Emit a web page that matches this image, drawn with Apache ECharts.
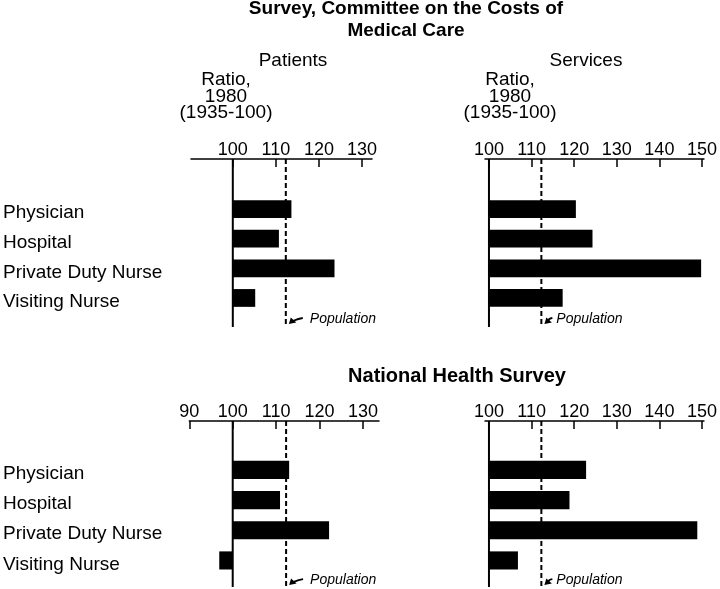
<!DOCTYPE html>
<html>
<head>
<meta charset="utf-8">
<script src="https://cdn.jsdelivr.net/npm/echarts@6/dist/echarts.min.js"></script>
<style>html,body{margin:0;padding:0;background:#fff;}#c{width:720px;height:589px;}</style>
</head>
<body>
<div id="c"></div>
<script>
// ---- data ----
const categories = ['Physician', 'Hospital', 'Private Duty Nurse', 'Visiting Nurse'];
const ccmcPatients = [113.6, 110.7, 123.6, 105.2];
const ccmcServices = [120.4, 124.3, 149.8, 117.3];
const nhsPatients  = [113.0, 110.9, 122.2, 96.9];
const nhsServices  = [122.8, 118.9, 148.9, 106.8];
const baseRatio = 100;
const populationRatio = 112.3;
const ticksPatientsTop = [100, 110, 120, 130];
const ticksPatientsBottom = [90, 100, 110, 120, 130];
const ticksServices = [100, 110, 120, 130, 140, 150];

const FONT = "'Liberation Sans', Arial, sans-serif";
const BLACK = '#000';

// panel layout: grid + axis ranges
const panels = [
  {values: ccmcPatients, ticks: ticksPatientsTop, left: 190, width: 182, top: 159, height: 168, xMin: 90.3, xMax: 132.3, yMin: -1.69, yMax: 3.98, annotY: 3.71, textOff: 24, arrowLen: 14, showCats: true},
  {values: ccmcServices, ticks: ticksServices, left: 485, width: 222, top: 159, height: 168, xMin: 99.07, xMax: 150.46, yMin: -1.69, yMax: 3.98, annotY: 3.71, textOff: 15, arrowLen: 8, showCats: false},
  {values: nhsPatients, ticks: ticksPatientsBottom, left: 188.3, width: 190.7, top: 421, height: 166, xMin: 90, xMax: 133.7, yMin: -1.62, yMax: 3.88, annotY: 3.65, textOff: 24, arrowLen: 14, showCats: true},
  {values: nhsServices, ticks: ticksServices, left: 485, width: 222, top: 421, height: 166, xMin: 99.07, xMax: 150.46, yMin: -1.62, yMax: 3.88, annotY: 3.65, textOff: 15, arrowLen: 8, showCats: false}
];

const grid = [], xAxis = [], yAxis = [], series = [];
panels.forEach((p, i) => {
  grid.push({left: p.left, width: p.width, top: p.top, height: p.height, containLabel: false});
  xAxis.push({
    type: 'value', gridIndex: i, position: 'top', min: p.xMin, max: p.xMax,
    splitLine: {show: false},
    axisLine: {show: true, onZero: false, lineStyle: {color: BLACK, width: 1.5}},
    axisTick: {show: true, inside: true, length: 8, lineStyle: {color: BLACK, width: 1.5}, customValues: p.ticks},
    axisLabel: {show: true, customValues: p.ticks, margin: 0, color: BLACK, fontSize: 18, fontFamily: FONT, formatter: v => String(Math.round(v))}
  });
  yAxis.push({
    type: 'value', gridIndex: i, inverse: true, min: p.yMin, max: p.yMax,
    splitLine: {show: false}, axisLine: {show: false, onZero: false}, axisTick: {show: false},
    axisLabel: {
      show: p.showCats, customValues: [0, 1, 2, 3], align: 'left', verticalAlign: 'top', lineHeight: 8,
      margin: p.left - 2, color: BLACK, fontSize: 19, fontFamily: FONT,
      formatter: v => categories[Math.round(v)] || ''
    }
  });
  // bars
  series.push({
    type: 'custom', xAxisIndex: i, yAxisIndex: i,
    data: p.values.map((v, k) => [v, k]),
    encode: {x: 0, y: 1},
    renderItem: (params, api) => {
      const yv = api.value(1);
      const a = api.coord([baseRatio, yv]);
      const b = api.coord([api.value(0), yv]);
      const h = api.size([0, 0.6])[1];
      return {type: 'rect', shape: {x: Math.min(a[0], b[0]), y: a[1] - h / 2, width: Math.abs(b[0] - a[0]), height: h}, style: {fill: BLACK}};
    },
    z: 3
  });
  // baseline at 100
  series.push({
    type: 'line', xAxisIndex: i, yAxisIndex: i, symbol: 'none', silent: true,
    data: [[baseRatio, p.yMin], [baseRatio, p.yMax]],
    lineStyle: {color: BLACK, width: 2}, z: 4
  });
  // population dashed line
  series.push({
    type: 'line', xAxisIndex: i, yAxisIndex: i, symbol: 'none', silent: true,
    data: [[populationRatio, p.yMin], [populationRatio, p.yMax]],
    lineStyle: {color: BLACK, width: 2, type: [5, 3]}, z: 4
  });
  // population annotation
  series.push({
    type: 'custom', xAxisIndex: i, yAxisIndex: i,
    data: [[populationRatio, p.annotY]],
    encode: {x: 0, y: 1},
    renderItem: (params, api) => {
      const c = api.coord([api.value(0), api.value(1)]);
      const x = c[0], y = c[1];
      const tipX = x + 3, tipY = y + 5;
      const tailX = x + 3 + p.arrowLen, tailY = y - 1;
      return {type: 'group', children: [
        {type: 'bezierCurve', shape: {x1: tailX, y1: tailY, x2: tipX + 4, y2: tipY - 3, cpx1: tailX - 4, cpy1: tailY + 0.5}, style: {stroke: BLACK, lineWidth: 1.8, fill: null}},
        {type: 'polygon', shape: {points: [[tipX, tipY], [tipX + 2, tipY - 6.5], [tipX + 7.5, tipY - 1.5]]}, style: {fill: BLACK}},
        {type: 'text', style: {text: 'Population', x: x + p.textOff, y: y, fontStyle: 'italic', fontSize: 14, fontFamily: FONT, fill: BLACK, verticalAlign: 'middle', align: 'left'}}
      ]};
    },
    z: 5
  });
});

const txt = (text, x, y, size, opts) => Object.assign({
  type: 'text', x: x, y: y,
  style: Object.assign({text: text, fontSize: size, fontFamily: FONT, fill: BLACK, align: 'center', verticalAlign: 'top'}, opts || {})
});

const graphic = [
  txt('Survey, Committee on the Costs of\nMedical Care', 406, -2, 19, {fontWeight: 'bold', lineHeight: 22}),
  txt('National Health Survey', 457, 365.5, 20, {fontWeight: 'bold', lineHeight: 22}),
  txt('Patients', 293, 50, 19, {lineHeight: 22}),
  txt('Services', 586, 50, 19, {lineHeight: 22}),
  txt('Ratio,\n1980\n(1935-100)', 226, 72, 19, {lineHeight: 16.5}),
  txt('Ratio,\n1980\n(1935-100)', 510, 72, 19, {lineHeight: 16.5})
];

const chart = echarts.init(document.getElementById('c'), null, {renderer: 'canvas'});
chart.setOption({
  backgroundColor: '#fff',
  animation: false,
  grid: grid, xAxis: xAxis, yAxis: yAxis, series: series, graphic: graphic
});
</script>
</body>
</html>
